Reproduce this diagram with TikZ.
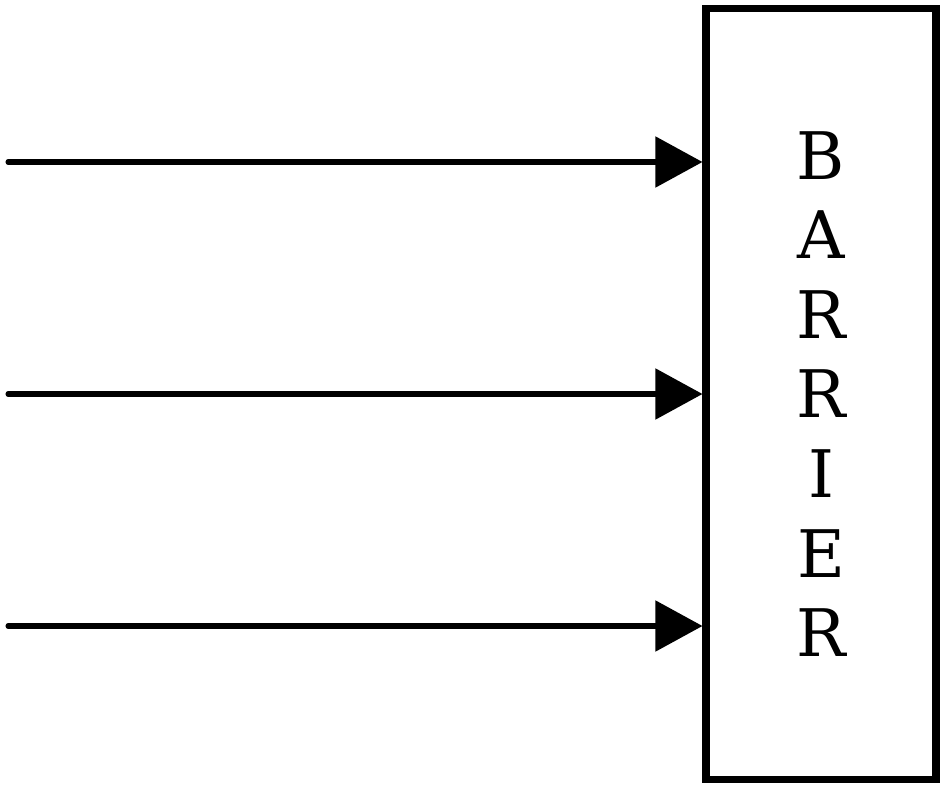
\documentclass[tikz,border=0pt]{standalone}
\usepackage{fontspec}
\setmainfont{DejaVu Serif}
\usetikzlibrary{arrows.meta, positioning}

\begin{document}
\begin{tikzpicture}[
    x=0.03cm, y=-0.03cm,
    wall/.style={rectangle, draw=black, line width=6pt, minimum width=6.9cm,
      minimum height=23.15cm, align=center, inner sep=0pt,
      font=\fontsize{56}{67.9}\selectfont},
    arrow/.style={-{Triangle[length=1.41cm, width=1.5cm]}, line width=4.3pt, line cap=round},
  ]
  \useasboundingbox (0,0) rectangle (945,789);

  \node[wall] (barrier) at (821,394) {B\\A\\R\\R\\I\\E\\R};

  \coordinate (src1) at (8,162);
  \coordinate (src2) at (8,394);
  \coordinate (src3) at (8,626);

  \draw[arrow] (src1) -- (src1 -| barrier.west);
  \draw[arrow] (src2) -- (src2 -| barrier.west);
  \draw[arrow] (src3) -- (src3 -| barrier.west);
\end{tikzpicture}
\end{document}
